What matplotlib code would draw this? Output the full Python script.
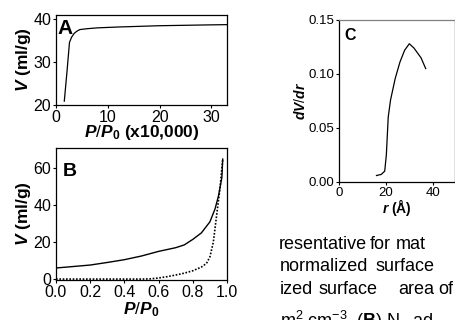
import numpy as np
import matplotlib.pyplot as plt

plt.rcParams['font.family'] = ['Liberation Sans', 'DejaVu Sans']
plt.rcParams['mathtext.fontset'] = 'custom'
plt.rcParams['mathtext.it'] = 'Liberation Sans:bold:italic'
plt.rcParams['mathtext.rm'] = 'Liberation Sans'
plt.rcParams['mathtext.bf'] = 'Liberation Sans:bold'

# panel A - isotherm at low pressure
a_x = [1.6, 2.1, 2.6, 3.0, 3.5, 4.0, 4.6, 6, 8, 12, 16, 20, 25, 30, 33]
a_v = [20.9, 27.5, 34.6, 35.8, 36.7, 37.2, 37.6, 37.8, 38.0, 38.2, 38.35, 38.5, 38.6, 38.7, 38.75]

# panel B - adsorption (dotted) and desorption (solid)
b_x_ads = [0.0, 0.1, 0.2, 0.3, 0.4, 0.5, 0.55, 0.6, 0.65, 0.7, 0.75, 0.8, 0.85, 0.88, 0.9, 0.92, 0.94, 0.96, 0.975]
b_v_ads = [0.0, 0.0, 0.0, 0.0, 0.0, 0.0, 0.1, 0.6, 1.3, 2.2, 3.2, 4.5, 6.5, 8.5, 12.0, 20.0, 35.0, 50.0, 65.0]
b_x_des = [0.0, 0.1, 0.2, 0.3, 0.4, 0.5, 0.6, 0.7, 0.75, 0.8, 0.85, 0.9, 0.93, 0.95, 0.97, 0.975]
b_v_des = [6.0, 6.8, 7.6, 9.0, 10.5, 12.5, 15.0, 17.0, 18.5, 21.5, 25.0, 31.0, 38.0, 45.0, 55.0, 65.0]

# panel C - pore size distribution
c_r = [16, 18, 19.5, 20.2, 21, 22, 24, 26, 28, 30, 32, 35, 37]
c_dv = [0.006, 0.007, 0.010, 0.025, 0.060, 0.076, 0.096, 0.111, 0.122, 0.128, 0.124, 0.115, 0.105]

# cut-off caption text on the right
text_words = [['resentative', 'for', 'mat'],
              ['normalized', 'surface'],
              ['ized', 'surface', 'area', 'of'],
              [r'm$^2$ cm$^{-3}$. ($\mathbf{B}$) N$_2$ ad']]
word_x = [[279, 370, 396], [280, 376], [280, 319, 398, 438], [280]]
line_y = [249, 271, 294, 327]

W, H = 456, 320
fig = plt.figure(figsize=(W / 100, H / 100), dpi=100)

def box(l, t, r, b):
    return [l / W, 1 - b / H, (r - l) / W, (b - t) / H]

def style(ax, size):
    for s in ax.spines.values():
        s.set_linewidth(0.9)
    ax.tick_params(direction='out', length=2.5, width=0.8, labelsize=size, pad=1)

lab = dict(fontsize=12.5, fontweight='bold')

# graph A
ax1 = fig.add_axes(box(56, 15, 227, 105))
ax1.plot(a_x, a_v, color='black', lw=0.9)
ax1.set_xlim(0, 33)
ax1.set_ylim(20, 41)
ax1.set_xticks([0, 10, 20, 30])
ax1.set_yticks([20, 30, 40])
style(ax1, 11.5)
ax1.set_ylabel(r'$V$ (ml/g)', labelpad=0, **lab)
ax1.set_xlabel(r'$P/P_\mathbf{0}$ (x10,000)', labelpad=-1, **lab)
ax1.text(0.01, 0.95, 'A', transform=ax1.transAxes, fontsize=15, fontweight='bold', va='top')

# graph B
ax2 = fig.add_axes(box(56, 148, 227, 280))
ax2.plot(b_x_des, b_v_des, color='black', lw=1.0)
ax2.plot(b_x_ads, b_v_ads, color='black', lw=1.2, ls=(0, (1, 1)))
ax2.set_xlim(0, 1.0)
ax2.set_ylim(-0.5, 71)
ax2.set_xticks(np.arange(0, 1.01, 0.2))
ax2.set_xticklabels(['0.0', '0.2', '0.4', '0.6', '0.8', '1.0'])
ax2.set_yticks([0, 20, 40, 60])
style(ax2, 11.5)
ax2.set_ylabel(r'$V$ (ml/g)', labelpad=0, **lab)
ax2.set_xlabel(r'$P/P_\mathbf{0}$', labelpad=0, **lab)
ax2.text(0.04, 0.89, 'B', transform=ax2.transAxes, fontsize=14, fontweight='bold', va='top')

# graph C
ax3 = fig.add_axes(box(339, 20, 455, 182))
ax3.plot(c_r, c_dv, color='black', lw=0.9)
ax3.set_xlim(0, 49.5)
ax3.set_ylim(0, 0.15)
ax3.set_xticks([0, 20, 40])
ax3.set_yticks([0.0, 0.05, 0.10, 0.15])
ax3.set_yticklabels(['0.00', '0.05', '0.10', '0.15'])
style(ax3, 9.5)
ax3.spines['top'].set_color('gray')
ax3.set_ylabel(r'$dV/dr$', fontsize=10, fontweight='bold', labelpad=0)
ax3.set_xlabel(r'$r$ (Å)', fontsize=10, fontweight='bold', labelpad=-1)
ax3.text(0.05, 0.95, 'C', transform=ax3.transAxes, fontsize=11.5, fontweight='bold', va='top')

# paragraph fragment
for words, xs, y in zip(text_words, word_x, line_y):
    for w, x in zip(words, xs):
        fig.text(x / W, 1 - y / H, w, fontsize=13, va='baseline', ha='left')

plt.savefig('out.png', dpi=100)
